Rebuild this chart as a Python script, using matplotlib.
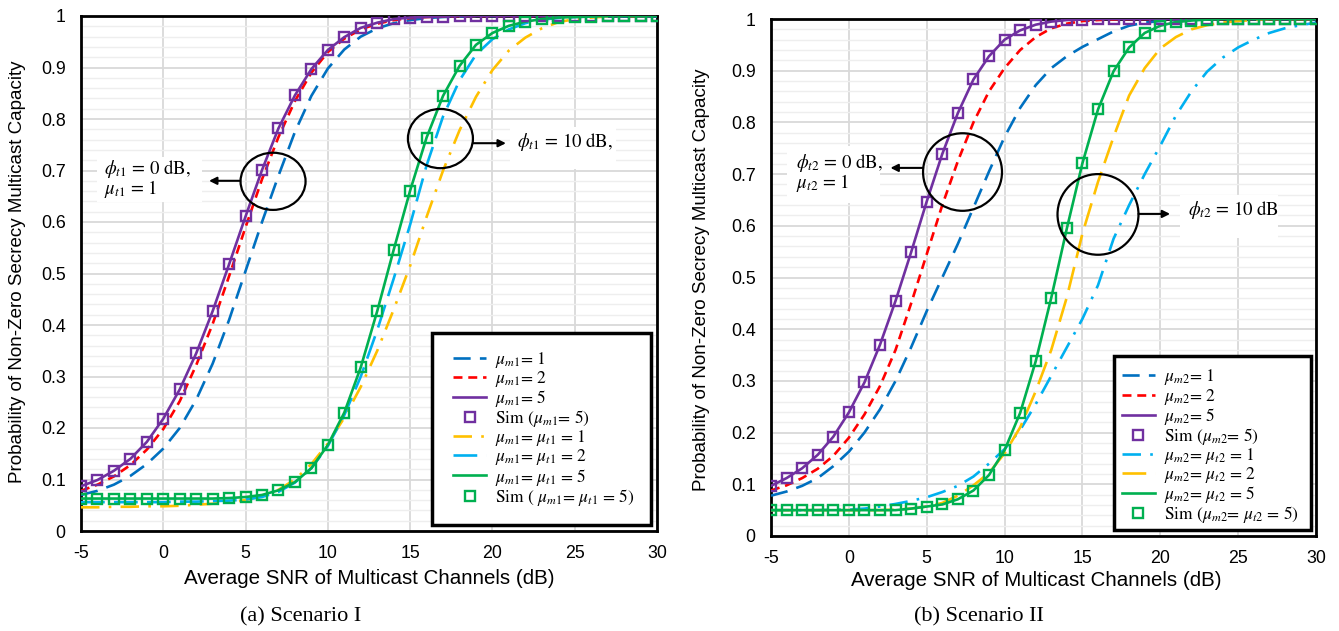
import matplotlib
matplotlib.use("Agg")
import matplotlib.pyplot as plt
from matplotlib.patches import Ellipse, Rectangle

plt.rcParams['mathtext.fontset'] = 'stix'
plt.rcParams['axes.unicode_minus'] = False

# Average SNR of the multicast channels (dB)
snr_db = list(range(-5, 31))
x_ticks = [-5, 0, 5, 10, 15, 20, 25, 30]
y_ticks = [0, 0.1, 0.2, 0.3, 0.4, 0.5, 0.6, 0.7, 0.8, 0.9, 1.0]
y_tick_labels = ['0', '0.1', '0.2', '0.3', '0.4', '0.5', '0.6', '0.7', '0.8', '0.9', '1']

# ---- Scenario I ----
s1_mu1 = [0.070, 0.078, 0.090, 0.107, 0.130, 0.160, 0.200, 0.255, 0.325, 0.410,
          0.505, 0.600, 0.690, 0.775, 0.845, 0.898, 0.935, 0.960, 0.976, 0.986,
          0.992, 0.996, 0.998, 0.999, 1.0, 1.0, 1.0, 1.0, 1.0, 1.0,
          1.0, 1.0, 1.0, 1.0, 1.0, 1.0]
s1_mu2 = [0.078, 0.090, 0.106, 0.128, 0.158, 0.198, 0.252, 0.322, 0.402, 0.495,
          0.590, 0.683, 0.765, 0.835, 0.890, 0.930, 0.956, 0.974, 0.985, 0.992,
          0.996, 0.998, 0.999, 1.0, 1.0, 1.0, 1.0, 1.0, 1.0, 1.0,
          1.0, 1.0, 1.0, 1.0, 1.0, 1.0]
s1_mu5 = [0.087, 0.099, 0.117, 0.140, 0.173, 0.218, 0.275, 0.345, 0.427, 0.518,
          0.611, 0.701, 0.782, 0.846, 0.897, 0.934, 0.959, 0.977, 0.987, 0.994,
          0.997, 0.998, 0.999, 1.0, 1.0, 1.0, 1.0, 1.0, 1.0, 1.0,
          1.0, 1.0, 1.0, 1.0, 1.0, 1.0]
s1_mt1 = [0.046, 0.046, 0.047, 0.047, 0.048, 0.048, 0.049, 0.051, 0.053, 0.056,
          0.060, 0.068, 0.080, 0.100, 0.130, 0.170, 0.220, 0.280, 0.350, 0.430,
          0.515, 0.610, 0.700, 0.778, 0.843, 0.895, 0.933, 0.958, 0.976, 0.988,
          0.994, 0.997, 0.999, 1.0, 1.0, 1.0]
s1_mt2 = [0.056, 0.056, 0.056, 0.056, 0.056, 0.056, 0.057, 0.057, 0.058, 0.059,
          0.061, 0.066, 0.076, 0.094, 0.122, 0.165, 0.225, 0.300, 0.390, 0.490,
          0.595, 0.710, 0.805, 0.875, 0.925, 0.955, 0.974, 0.986, 0.993, 0.996,
          0.998, 0.999, 1.0, 1.0, 1.0, 1.0]
s1_mt5 = [0.063, 0.063, 0.063, 0.063, 0.063, 0.063, 0.063, 0.063, 0.063, 0.064,
          0.066, 0.070, 0.079, 0.095, 0.122, 0.167, 0.230, 0.318, 0.427, 0.546,
          0.661, 0.764, 0.845, 0.903, 0.944, 0.967, 0.981, 0.989, 0.994, 0.997,
          0.998, 0.999, 1.0, 1.0, 1.0, 1.0]

# ---- Scenario II ----
s2_mu1 = [0.078, 0.086, 0.097, 0.112, 0.135, 0.163, 0.200, 0.245, 0.300, 0.365,
          0.435, 0.500, 0.565, 0.635, 0.705, 0.772, 0.828, 0.872, 0.905, 0.928,
          0.946, 0.961, 0.976, 0.987, 0.993, 0.996, 0.998, 0.999, 1.0, 1.0,
          1.0, 1.0, 1.0, 1.0, 1.0, 1.0]
s2_mu2 = [0.088, 0.098, 0.112, 0.130, 0.155, 0.190, 0.235, 0.290, 0.360, 0.450,
          0.545, 0.640, 0.725, 0.800, 0.860, 0.905, 0.940, 0.965, 0.982, 0.991,
          0.996, 0.998, 0.999, 1.0, 1.0, 1.0, 1.0, 1.0, 1.0, 1.0,
          1.0, 1.0, 1.0, 1.0, 1.0, 1.0]
s2_mu5 = [0.097, 0.112, 0.131, 0.157, 0.192, 0.239, 0.297, 0.370, 0.455, 0.549,
          0.647, 0.739, 0.818, 0.883, 0.928, 0.960, 0.978, 0.989, 0.995, 0.998,
          0.999, 1.0, 1.0, 1.0, 1.0, 1.0, 1.0, 1.0, 1.0, 1.0,
          1.0, 1.0, 1.0, 1.0, 1.0, 1.0]
s2_mt1 = [0.050, 0.050, 0.050, 0.050, 0.051, 0.051, 0.053, 0.057, 0.062, 0.068,
          0.075, 0.085, 0.097, 0.115, 0.140, 0.168, 0.205, 0.255, 0.310, 0.365,
          0.420, 0.485, 0.575, 0.640, 0.700, 0.755, 0.813, 0.860, 0.898, 0.925,
          0.945, 0.960, 0.973, 0.982, 0.988, 0.993]
s2_mt2 = [0.050, 0.050, 0.050, 0.050, 0.050, 0.050, 0.050, 0.050, 0.051, 0.053,
          0.057, 0.064, 0.078, 0.098, 0.122, 0.160, 0.210, 0.280, 0.360, 0.462,
          0.585, 0.685, 0.772, 0.852, 0.905, 0.943, 0.965, 0.980, 0.988, 0.993,
          0.996, 0.998, 1.0, 1.0, 1.0, 1.0]
s2_mt5 = [0.050, 0.050, 0.050, 0.050, 0.050, 0.050, 0.050, 0.050, 0.050, 0.053,
          0.057, 0.061, 0.071, 0.088, 0.118, 0.166, 0.238, 0.338, 0.461, 0.595,
          0.721, 0.825, 0.899, 0.945, 0.973, 0.987, 0.994, 0.997, 0.999, 1.0,
          1.0, 1.0, 1.0, 1.0, 1.0, 1.0]

BLUE = '#0070C0'
RED = '#FF0000'
PURPLE = '#7030A0'
YELLOW = '#FFC000'
LBLUE = '#00B0F0'
GREEN = '#00B050'

LW = 1.9
DASH = (0, (6.5, 3.5))
SHORT = (0, (3.4, 2.2))
DASHDOT = (0, (7, 3.5, 1, 3.5))
LONG = (0, (9, 3.5))

SANS = ['Liberation Sans', 'DejaVu Sans']
SERIF = ['STIXGeneral', 'DejaVu Serif']

W, H = 1339, 631
fig = plt.figure(figsize=(W / 100, H / 100), dpi=100)


def px_axes(left, top, right, bottom):
    return [left / W, 1 - bottom / H, (right - left) / W, (bottom - top) / H]


def style_axes(ax):
    ax.set_xlim(-5, 30)
    ax.set_ylim(0, 1)
    ax.set_xticks(x_ticks)
    ax.set_yticks(y_ticks)
    ax.set_yticklabels(y_tick_labels)
    ax.set_yticks([i * 0.02 for i in range(51)], minor=True)
    ax.tick_params(which='both', length=0)
    ax.tick_params(axis='y', pad=11)
    ax.tick_params(axis='x', pad=10)
    for lab in ax.get_xticklabels() + ax.get_yticklabels():
        lab.set_fontfamily(SANS)
        lab.set_fontsize(12.8)
    ax.grid(which='minor', axis='y', color='#eeeeee', lw=1.0)
    ax.grid(which='major', axis='both', color='#d9d9d9', lw=1.3)
    ax.set_axisbelow(True)
    for sp in ax.spines.values():
        sp.set_linewidth(2.0)
        sp.set_color('black')


def draw_curves(ax, series, labels, styles, colors):
    for ys, lab, ls, c in zip(series, labels, styles, colors):
        if ls == 'marker':
            ax.plot(snr_db, ys, ls='none', marker='s', ms=7.8, mfc='none',
                    mec=c, mew=1.7, label=lab, zorder=4)
        else:
            ax.plot(snr_db, ys, color=c, ls=ls, lw=LW, label=lab, zorder=3,
                    dash_capstyle='butt')


def legend_box(ax, box, anchor, fontsize=12.5):
    x0, y0, x1, y1 = box
    ax.add_patch(Rectangle((x0, y0), x1 - x0, y1 - y0, transform=ax.transAxes,
                           facecolor='white', edgecolor='black', lw=2.5, zorder=5))
    leg = ax.legend(loc='upper left', bbox_to_anchor=anchor, frameon=False,
                    borderpad=0, borderaxespad=0, handlelength=1.9,
                    handletextpad=0.5, labelspacing=-0.05,
                    prop={'family': SERIF, 'size': fontsize})
    leg.set_zorder(6)


def note(ax, ell, arrow, box, lines):
    (cx, cy, ew, eh) = ell
    ax.add_patch(Ellipse((cx, cy), ew, eh, facecolor='none', edgecolor='black',
                         lw=1.6, zorder=6))
    (ax0, ay0, ax1, ay1) = arrow
    ax.annotate('', xy=(ax1, ay1), xytext=(ax0, ay0),
                arrowprops=dict(arrowstyle='-|>', color='black', lw=1.5,
                                mutation_scale=11, shrinkA=0, shrinkB=0),
                zorder=6)
    (bx0, by0, bx1, by1) = box
    ax.add_patch(Rectangle((bx0, by0), bx1 - bx0, by1 - by0, facecolor='white',
                           edgecolor='none', zorder=2))
    for (tx, ty, s) in lines:
        ax.text(tx, ty, s, ha='left', va='center', fontsize=13.5,
                fontfamily=SERIF, zorder=7)


# ---------- (a) Scenario I ----------
ax1 = fig.add_axes(px_axes(81, 16, 657, 531))
style_axes(ax1)
draw_curves(ax1,
            [s1_mu1, s1_mu2, s1_mu5, s1_mu5, s1_mt1, s1_mt2, s1_mt5, s1_mt5],
            [r'$\mu_{m1}$= 1', r'$\mu_{m1}$= 2', r'$\mu_{m1}$= 5',
             r'Sim ($\mu_{m1}$= 5)', r'$\mu_{m1}$= $\mu_{t1}$ = 1',
             r'$\mu_{m1}$= $\mu_{t1}$ = 2', r'$\mu_{m1}$= $\mu_{t1}$ = 5',
             r'Sim ( $\mu_{m1}$= $\mu_{t1}$ = 5)'],
            [DASH, SHORT, '-', 'marker', DASHDOT, LONG, '-', 'marker'],
            [BLUE, RED, PURPLE, PURPLE, YELLOW, LBLUE, GREEN, GREEN])
legend_box(ax1, (0.609, 0.0117, 0.990, 0.3845), (0.646, 0.352))
note(ax1, (6.67, 0.679, 3.95, 0.111), (4.66, 0.68, 2.78, 0.68),
     (-4.03, 0.639, 2.35, 0.727),
     [(-3.6, 0.703, r'$\phi_{t1}$ = 0 dB,'), (-3.6, 0.664, r'$\mu_{t1}$ = 1')])
note(ax1, (16.84, 0.762, 3.95, 0.115), (18.82, 0.753, 20.82, 0.753),
     (21.07, 0.703, 27.5, 0.784),
     [(21.5, 0.755, r'$\phi_{t1}$ = 10 dB,')])

# ---------- (b) Scenario II ----------
ax2 = fig.add_axes(px_axes(771, 19, 1316, 536))
style_axes(ax2)
draw_curves(ax2,
            [s2_mu1, s2_mu2, s2_mu5, s2_mu5, s2_mt1, s2_mt2, s2_mt5, s2_mt5],
            [r'$\mu_{m2}$= 1', r'$\mu_{m2}$= 2', r'$\mu_{m2}$= 5',
             r'Sim ($\mu_{m2}$= 5)', r'$\mu_{m2}$= $\mu_{t2}$ = 1',
             r'$\mu_{m2}$= $\mu_{t2}$ = 2', r'$\mu_{m2}$= $\mu_{t2}$ = 5',
             r'Sim ($\mu_{m2}$= $\mu_{t2}$ = 5)'],
            [DASH, SHORT, '-', 'marker', DASHDOT, LONG, '-', 'marker'],
            [BLUE, RED, PURPLE, PURPLE, LBLUE, YELLOW, GREEN, GREEN])
legend_box(ax2, (0.629, 0.0116, 0.991, 0.348), (0.644, 0.326))
note(ax2, (7.3, 0.704, 5.07, 0.15), (4.77, 0.712, 2.67, 0.712),
     (-3.98, 0.644, 1.97, 0.754),
     [(-3.4, 0.721, r'$\phi_{t2}$ = 0 dB,'), (-3.4, 0.682, r'$\mu_{t2}$ = 1')])
note(ax2, (16.0, 0.622, 5.2, 0.156), (18.6, 0.623, 20.63, 0.623),
     (21.27, 0.576, 27.58, 0.66),
     [(21.75, 0.63, r'$\phi_{t2}$ = 10 dB')])

# ---------- axis titles and captions ----------
ylab = 'Probability of Non-Zero Secrecy Multicast Capacity'
xlab = 'Average SNR of Multicast Channels (dB)'
fig.text(18 / W, 1 - 272 / H, ylab, rotation=90, ha='center', va='center',
         fontsize=13.5, fontfamily=SANS)
fig.text(702 / W, 1 - 280 / H, ylab, rotation=90, ha='center', va='center',
         fontsize=13.5, fontfamily=SANS)
fig.text(369 / W, 1 - 578 / H, xlab, ha='center', va='center',
         fontsize=14.8, fontfamily=SANS)
fig.text(1036 / W, 1 - 580 / H, xlab, ha='center', va='center',
         fontsize=14.8, fontfamily=SANS)
fig.text(301 / W, 1 - 617 / H, '(a) Scenario I', ha='center', va='center',
         fontsize=16, fontfamily=['Liberation Serif', 'DejaVu Serif'])
fig.text(979 / W, 1 - 617 / H, '(b) Scenario II', ha='center', va='center',
         fontsize=16, fontfamily=['Liberation Serif', 'DejaVu Serif'])

fig.savefig('out.png', dpi=100, facecolor='white')
